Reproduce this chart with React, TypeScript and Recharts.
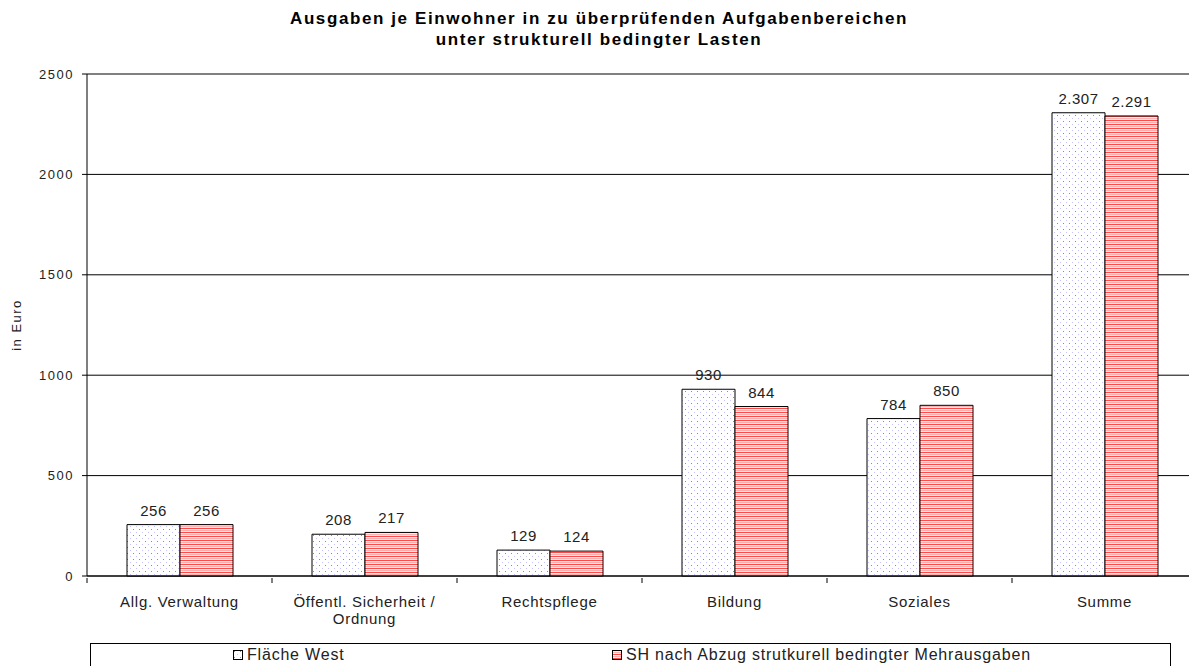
import React from "react";
import { BarChart, Bar, XAxis, YAxis, CartesianGrid, LabelList } from "recharts";

const categories = [
  "Allg. Verwaltung",
  "Öffentl. Sicherheit /\nOrdnung",
  "Rechtspflege",
  "Bildung",
  "Soziales",
  "Summe",
];
const flaecheWest = [256, 208, 129, 930, 784, 2307];
const shNachAbzug = [256, 217, 124, 844, 850, 2291];
const yTicks = [0, 500, 1000, 1500, 2000, 2500];
const seriesNames = ["Fläche West", "SH nach Abzug strutkurell bedingter Mehrausgaben"];
const titleLines = [
  "Ausgaben je Einwohner in zu überprüfenden Aufgabenbereichen",
  "unter strukturell bedingter Lasten",
];

const data = categories.map((name, i) => ({
  name,
  west: flaecheWest[i],
  sh: shNachAbzug[i],
}));

const FONT = "'Liberation Sans', Arial, sans-serif";

// german thousands separator: 2307 -> 2.307
const fmt = (v: any) => String(v).replace(/\B(?=(\d{3})+(?!\d))/g, ".");

const CategoryTick = (props: any) => {
  const { x, y, payload } = props;
  const half = payload?.offset ?? 92.5;
  const lines = String(payload.value).split("\n");
  return (
    <g>
      <line x1={x - half} x2={x - half} y1={y} y2={y + 5} stroke="#000" />
      <text
        x={x}
        y={y + 29}
        textAnchor="middle"
        fontSize={15}
        letterSpacing={0.7}
        fill="#222"
        fontFamily={FONT}
      >
        {lines.map((l, i) => (
          <tspan key={i} x={x} dy={i === 0 ? 0 : 17}>
            {l}
          </tspan>
        ))}
      </text>
    </g>
  );
};

const Swatch = ({ fill }: { fill: string }) => (
  <svg width={11} height={11} style={{ marginRight: 3, verticalAlign: "-1px" }}>
    <rect x={0.5} y={0.5} width={9} height={9} fill={fill} stroke="#000" />
  </svg>
);

export default function App() {
  return (
    <div
      style={{
        position: "absolute",
        left: 0,
        top: 0,
        width: 1189,
        height: 666,
        overflow: "hidden",
        background: "#fff",
        fontFamily: FONT,
      }}
    >
      <div
        style={{
          position: "absolute",
          left: 0,
          top: 8,
          width: 1198,
          textAlign: "center",
          fontWeight: "bold",
          fontSize: 17,
          letterSpacing: 1.6,
          lineHeight: "21px",
          color: "#000",
        }}
      >
        {titleLines.map((t) => (
          <div key={t}>{t}</div>
        ))}
      </div>

      <BarChart
        width={1200}
        height={666}
        data={data}
        margin={{ top: 74, right: 3, bottom: 30, left: 0 }}
        barGap={0}
        barCategoryGap={40}
      >
        <defs>
          <pattern id="dots" width="6" height="6" patternUnits="userSpaceOnUse">
            <rect width="6" height="6" fill="#fff" />
            <rect x="1" y="1" width="1" height="1" fill="#8080ff" />
            <rect x="4" y="4" width="1" height="1" fill="#c4c4ff" />
          </pattern>
          <pattern id="stripes" width="8" height="4" patternUnits="userSpaceOnUse">
            <rect width="8" height="4" fill="#ffe8e8" />
            <rect y="0" width="8" height="1" fill="#ff4a4a" />
            <rect y="2" width="8" height="1" fill="#ffb0b0" />
          </pattern>
        </defs>
        <CartesianGrid vertical={false} stroke="#000" />
        <XAxis
          dataKey="name"
          axisLine={{ stroke: "#000" }}
          tickLine={false}
          tickSize={0}
          height={60}
          interval={0}
          tick={<CategoryTick />}
        />
        <YAxis
          width={87}
          domain={[0, 2500]}
          ticks={yTicks}
          interval={0}
          axisLine={{ stroke: "#000" }}
          tickLine={{ stroke: "#000" }}
          tickSize={5}
          tickMargin={8}
          tick={{ fontSize: 13, fill: "#222", fontFamily: FONT, letterSpacing: 1.5 }}
          label={{
            content: (p: any) => {
              const vb = p.viewBox || {};
              const cx = 16;
              const cy = (vb.y ?? 74) + (vb.height ?? 502) / 2;
              return (
                <text
                  x={cx}
                  y={cy}
                  transform={`rotate(-90 ${cx} ${cy})`}
                  textAnchor="middle"
                  dominantBaseline="central"
                  fontSize={13}
                  letterSpacing={1.5}
                  fill="#222"
                  fontFamily={FONT}
                >
                  in Euro
                </text>
              );
            },
          }}
        />
        <Bar dataKey="west" name={seriesNames[0]} fill="url(#dots)" stroke="#000" strokeWidth={1} isAnimationActive={false}>
          <LabelList
            dataKey="west"
            position="top"
            offset={9}
            formatter={fmt}
            fontSize={15}
            letterSpacing={0.5}
            fill="#222"
            fontFamily={FONT}
          />
        </Bar>
        <Bar dataKey="sh" name={seriesNames[1]} fill="url(#stripes)" stroke="#000" strokeWidth={1} isAnimationActive={false}>
          <LabelList
            dataKey="sh"
            position="top"
            offset={9}
            formatter={fmt}
            fontSize={15}
            letterSpacing={0.5}
            fill="#222"
            fontFamily={FONT}
          />
        </Bar>
      </BarChart>

      <div
        style={{
          position: "absolute",
          left: 90,
          top: 643,
          width: 1081,
          height: 30,
          border: "1px solid #000",
          boxSizing: "border-box",
          fontSize: 16,
          letterSpacing: 0.8,
          color: "#222",
        }}
      >
        <div style={{ position: "absolute", left: 142, top: 2, whiteSpace: "nowrap" }}>
          <Swatch fill="url(#dots)" />
          {seriesNames[0]}
        </div>
        <div style={{ position: "absolute", left: 521, top: 2, whiteSpace: "nowrap" }}>
          <Swatch fill="url(#stripes)" />
          {seriesNames[1]}
        </div>
      </div>
    </div>
  );
}
